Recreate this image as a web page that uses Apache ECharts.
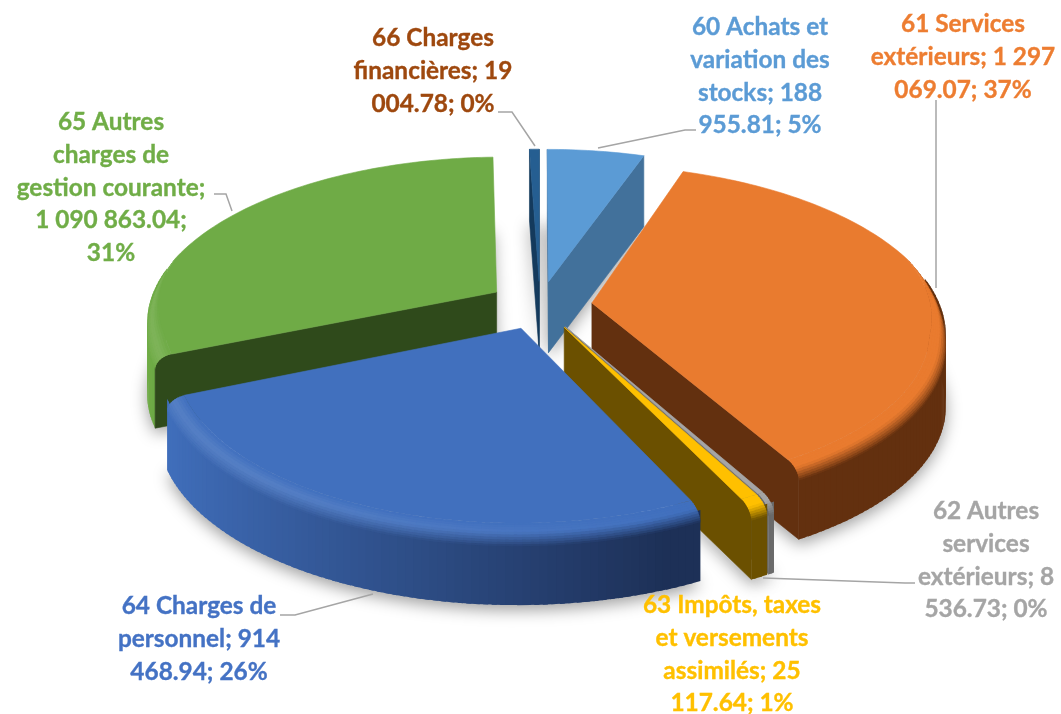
<!DOCTYPE html>
<html><head><meta charset="utf-8">
<style>html,body{margin:0;padding:0;background:#fff}#c{width:1061px;height:714px}</style>
<script src="https://cdn.jsdelivr.net/npm/echarts@6/dist/echarts.min.js"></script>
</head><body><div id="c"></div>
<script>
// ---- data ----
var categories = ['60 Achats et variation des stocks','61 Services extérieurs','62 Autres services extérieurs','63 Impôts, taxes et versements assimilés','64 Charges de personnel','65 Autres charges de gestion courante','66 Charges financières'];
var values = [188955.81, 1297069.07, 8536.73, 25117.64, 914468.94, 1090863.04, 19004.78];
var labelLines = [
  ['60 Achats et','variation des','stocks; 188','955.81; 5%'],
  ['61 Services','extérieurs; 1 297','069.07; 37%'],
  ['62 Autres','services','extérieurs; 8','536.73; 0%'],
  ['63 Impôts, taxes','et versements','assimilés; 25','117.64; 1%'],
  ['64 Charges de','personnel; 914','468.94; 26%'],
  ['65 Autres','charges de','gestion courante;','1 090 863.04;','31%'],
  ['66 Charges','financières; 19','004.78; 0%']
];
// ---- styles ----
var topColors  = ['#5B9BD5','#E97B2F','#A5A5A5','#FFC000','#4170BE','#6FAB46','#255E91'];
var faceColors = ['#42719B','#63300F','#6A6A6A','#6B5000','#2A4680','#2F4A1B','#143A5C'];
var wallDark   = ['#42719B','#63300F','#6A6A6A','#6B5000','#1D3057','#2F4A1B','#143A5C'];
var textColors = ['#5B9BD5','#ED7D31','#A5A5A5','#FFC000','#4472C4','#70AD47','#9E480E'];
var labelPos = [[760,11],[963,8],[986,495],[732,589],[199,590],[111,106],[433,22]];
var leaders = [
  [[598,148],[685,130],[696,130]],
  [[936,288],[936,100]],
  [[763,578],[905,583],[915,583]],
  null,
  [[373,594],[295,615],[280,615]],
  [[232,211],[226,194],[214,194]],
  [[535,146],[512,112],[498,112]]
];
var paintOrder = [5,6,0,1,2,3,4];
var CX=540, CY=305, RX=348, RY=162, K=0.17, DEPTH=71, EXPL=0.15, BEVEL=0.045, BEVELZ=0.17;

var total = values.reduce(function(a,b){return a+b;},0);
var starts = []; (function(){var c=0; values.forEach(function(v){starts.push(c/total*Math.PI*2); c+=v;});})();

function hex(c){return [parseInt(c.substr(1,2),16),parseInt(c.substr(3,2),16),parseInt(c.substr(5,2),16)];}
function mix(a,b,t){t=Math.max(0,Math.min(1,t));var A=hex(a),B=hex(b);
  return '#'+[0,1,2].map(function(i){var v=Math.round(A[i]+(B[i]-A[i])*t).toString(16);return v.length<2?'0'+v:v;}).join('');}
function clamp(v){return Math.max(0,Math.min(1,v));}

function sliceGeom(i){
  var a0=starts[i], a1=a0+values[i]/total*Math.PI*2, m=(a0+a1)/2;
  var ox=Math.sin(m)*EXPL, oy=-Math.cos(m)*EXPL;
  function P(a,r,z){
    var X=ox+Math.sin(a)*r, Y=oy-Math.cos(a)*r, s=1/(1-K*Y);
    return [CX+X*RX*s, CY+Y*RY*s+z*DEPTH];
  }
  return {a0:a0,a1:a1,ox:ox,oy:oy,P:P};
}
function amt(g,a){var Y=g.oy-Math.cos(a); return BEVEL*clamp((Y+0.3)/0.5);}

function poly(points,fill,thin){
  return {type:'polygon',silent:true,shape:{points:points},style:thin?{fill:fill,stroke:fill,lineWidth:0.6}:{fill:fill}};
}

function renderShadow(params,api){
  var i=api.value(0), g=sliceGeom(i), pts=[g.P(0,0,1)];
  var n=Math.max(2,Math.ceil((g.a1-g.a0)/0.05));
  for(var j=0;j<=n;j++){pts.push(g.P(g.a0+(g.a1-g.a0)*j/n,1,1));}
  return {type:'polygon',silent:true,shape:{points:pts},style:{fill:'#cccccc',shadowBlur:16,shadowColor:'rgba(0,0,0,0.38)',shadowOffsetY:5}};
}

function faceVisible(g,a,inner){
  var o=g.P(0,0,0), e=g.P(a,1,0), q=g.P(inner,1,0);
  var ex=e[0]-o[0], ey=e[1]-o[1];
  var crossDown=ex*1, crossIn=ex*(q[1]-o[1])-ey*(q[0]-o[0]);
  return crossDown*crossIn<0;
}

function renderSlice(params,api){
  var i=api.value(0), g=sliceGeom(i), kids=[], base=topColors[i], dark=wallDark[i], face=faceColors[i];
  var n=Math.max(3,Math.ceil((g.a1-g.a0)/0.02)), da=(g.a1-g.a0)/n, j;
  function wallCol(a){return mix(base,dark,(Math.sin(a)+0.95)/1.3);}
  // outer wall (front-facing part only)
  for(j=0;j<n;j++){
    var a=g.a0+da*j, b=Math.min(g.a1,a+da*1.6);
    if(Math.cos(a+da/2)>0.15) continue;
    kids.push(poly([g.P(a,1,0),g.P(b,1,0),g.P(b,1,1),g.P(a,1,1)],wallCol(a+da/2)));
  }
  // cut faces that look at the viewer
  var mid=(g.a0+g.a1)/2;
  if(faceVisible(g,g.a0,mid)) kids.push(poly([g.P(0,0,0),g.P(g.a0,1,0),g.P(g.a0,1,1),g.P(0,0,1)],face,true));
  if(faceVisible(g,g.a1,mid)) kids.push(poly([g.P(0,0,0),g.P(g.a1,1,0),g.P(g.a1,1,1),g.P(0,0,1)],face,true));
  // bevelled rim: outermost band first, overlapped inward
  var steps=10;
  function rim(a,u){var w=amt(g,a),th=u*Math.PI/2,f=w/BEVEL;
    return g.P(a,1-w+w*Math.sin(th),BEVELZ*f*(1-Math.cos(th)));}
  for(var s=steps-1;s>=0;s--){
    var u0=s/steps,u1=(s+1)/steps,uc=(u0+u1)/2;
    for(j=0;j<n;j++){
      var a2=g.a0+da*j,b2=Math.min(g.a1,a2+da*1.6),m2=a2+da/2;
      if(amt(g,m2)<=0) continue;
      var X=Math.sin(m2), hi=mix(base,'#ffffff',0.11*clamp(0.4-X)), wc=wallCol(m2);
      var c=uc<0.4?mix(base,hi,uc/0.4):mix(hi,wc,(uc-0.4)/0.6);
      kids.push(poly([rim(a2,Math.max(0,u0-0.05)),rim(b2,Math.max(0,u0-0.05)),rim(b2,u1),rim(a2,u1)],c));
    }
  }
  // top face
  var pts=[g.P(0,0,0)];
  for(j=0;j<=n;j++){var a3=g.a0+da*j; pts.push(g.P(a3,1-amt(g,a3),0));}
  kids.push(poly(pts,base,true));
  return {type:'group',children:kids};
}

function renderLabel(params,api){
  var i=api.value(0), kids=[];
  if(leaders[i]) kids.push({type:'polyline',silent:true,shape:{points:leaders[i]},style:{fill:'none',stroke:'#A5A5A5',lineWidth:1.5}});
  kids.push({type:'text',silent:true,style:{text:labelLines[i].join('\n'),x:labelPos[i][0],y:labelPos[i][1],
    align:'center',verticalAlign:'top',fontFamily:'Lato',fontWeight:'bold',fontSize:24.4,lineHeight:32.7,fill:textColors[i],stroke:textColors[i],lineWidth:0.35}});
  return {type:'group',children:kids};
}

var sliceData = paintOrder.map(function(i){return {name:categories[i],value:[i,values[i]]};});
var chart = echarts.init(document.getElementById('c'),null,{renderer:'canvas'});
chart.setOption({
  animation:false,
  backgroundColor:'#ffffff',
  series:[
    {type:'custom',coordinateSystem:'none',renderItem:renderShadow,data:sliceData,silent:true},
    {type:'custom',coordinateSystem:'none',renderItem:renderSlice,data:sliceData,silent:true},
    {type:'custom',coordinateSystem:'none',renderItem:renderLabel,data:sliceData,silent:true}
  ]
});
</script></body></html>
